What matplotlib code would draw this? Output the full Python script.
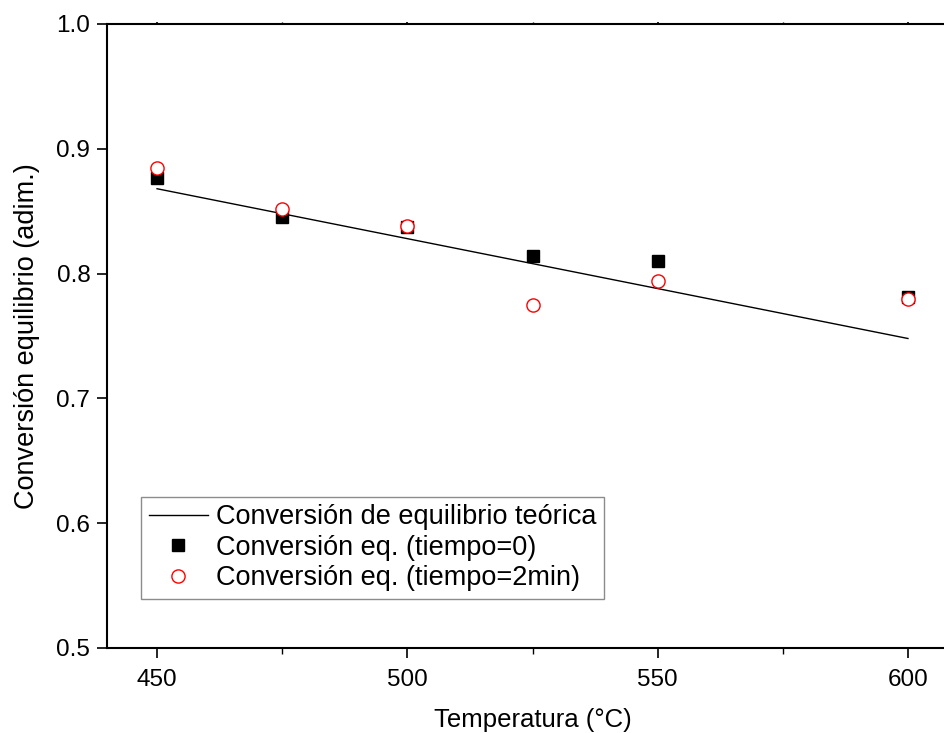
import matplotlib
matplotlib.use("Agg")
import matplotlib.pyplot as plt
from matplotlib.ticker import MultipleLocator

plt.rcParams['font.family'] = ['Liberation Sans', 'DejaVu Sans']

# datos
temperaturas = [450, 475, 500, 525, 550, 600]
conv_t0 = [0.877, 0.845, 0.837, 0.814, 0.810, 0.781]
conv_t2 = [0.885, 0.852, 0.838, 0.775, 0.794, 0.780]

temp_teorica = [450, 600]
conv_teorica = [0.868, 0.748]

fig = plt.figure(figsize=(9.44, 7.33), dpi=100)
ax = fig.add_axes([107 / 944, 85 / 733, 851 / 944, 624 / 733])

ax.plot(temp_teorica, conv_teorica, '-', color='black', linewidth=1.0,
        label="Conversión de equilibrio teórica", zorder=2)
ax.plot(temperaturas, conv_t0, 's', color='black', markersize=8.5,
        label="Conversión eq. (tiempo=0)", zorder=3)
ax.plot(temperaturas, conv_t2, 'o', markerfacecolor='white', markeredgecolor='red',
        markeredgewidth=1.0, markersize=9.5, linestyle='none',
        label="Conversión eq. (tiempo=2min)", zorder=4)

ax.set_xlim(440, 610)
ax.set_ylim(0.5, 1.0)
ax.xaxis.set_major_locator(MultipleLocator(50))
ax.xaxis.set_minor_locator(MultipleLocator(25))
ax.yaxis.set_major_locator(MultipleLocator(0.1))
ax.yaxis.set_major_formatter(matplotlib.ticker.FormatStrFormatter('%.1f'))

for s in ax.spines.values():
    s.set_linewidth(1.5)
ax.spines['right'].set_visible(False)

ax.tick_params(axis='both', which='major', direction='out', length=7, width=1.2,
               labelsize=17.5)
ax.tick_params(axis='x', which='major', pad=8)
ax.tick_params(axis='y', which='major', pad=5)
ax.tick_params(axis='x', which='minor', direction='out', length=4, width=1.0)
# marcas casi invisibles arriba
ax.tick_params(axis='x', which='both', top=True)
for t in ax.xaxis.get_major_ticks() + ax.xaxis.get_minor_ticks():
    t.tick2line.set_markersize(1.5)

ax.set_xlabel("Temperatura (°C)", fontsize=18.5, labelpad=12)
ax.set_ylabel("Conversión equilibrio (adim.)", fontsize=19.5, labelpad=12)

leg = ax.legend(loc='lower left', bbox_to_anchor=(34 / 851, 49 / 624),
                borderaxespad=0, fontsize=19.5, frameon=True, fancybox=False,
                handlelength=2.2, handletextpad=0.3, labelspacing=0.17,
                borderpad=0.28)
leg.get_frame().set_edgecolor('#707070')
leg.get_frame().set_linewidth(1.0)

plt.savefig("out.png", dpi=100)
plt.close()
